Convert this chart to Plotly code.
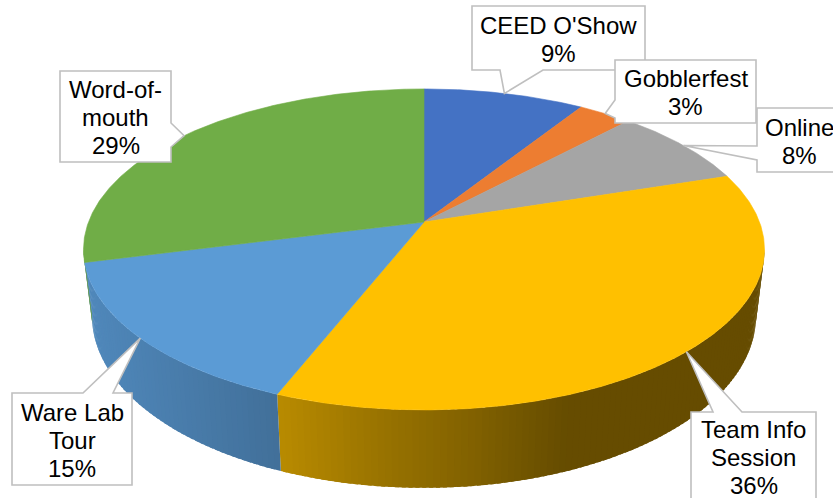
import numpy as np
import plotly.graph_objects as go

# ---- data -------------------------------------------------------------
sources = ["CEED O'Show", "Gobblerfest", "Online", "Team Info Session",
           "Ware Lab Tour", "Word-of-mouth"]
shares = [9, 3, 8, 36, 15, 29]
label_lines = [["CEED O'Show"], ["Gobblerfest"], ["Online"],
               ["Team Info", "Session"], ["Ware Lab", "Tour"],
               ["Word-of-", "mouth"]]
top_colors = ["#4472C4", "#ED7D31", "#A5A5A5", "#FFC000", "#5B9BD5", "#70AD47"]

# ---- 3-D pie geometry (tilted disc seen in perspective) ---------------
W, H = 833, 498
CX, CY = 424.0, 222.0      # centre of the top face
RX, RY = 335.5, 155.8      # horizontal / vertical radius scale
PERSP = 0.171              # perspective strength (front larger than back)
DEPTH = 64.6               # thickness of the disc
TAPER = 0.975              # vertical edges converge slightly downwards


def project(theta_deg, bottom=False):
    """Screen position of a rim point; angle clockwise from the back."""
    t = np.radians(theta_deg)
    u, v = np.sin(t), -np.cos(t)
    s = 1.0 / (1.0 - PERSP * v)
    x = CX + RX * u * s
    y = CY + RY * v * s
    if bottom:
        x = CX + (x - CX) * TAPER
        y = y + DEPTH * s
    return x, y


def shade(hex_color, f):
    h = hex_color.lstrip("#")
    r, g, b = (int(h[i:i + 2], 16) for i in (0, 2, 4))
    return "rgb({},{},{})".format(int(r * f), int(g * f), int(b * f))


def side_factor(x):
    # light comes from the left: the rim darkens towards the right
    return float(np.interp(x, [85, 280, 380, 470, 565, 833],
                           [0.88, 0.72, 0.60, 0.51, 0.40, 0.40]))


total = float(sum(shares))
bounds = np.concatenate([[0.0], np.cumsum(shares) / total * 360.0])

# visible part of the rim (front half between the silhouette extremes)
vis_lo = np.degrees(np.arccos(-PERSP))
vis_hi = 360.0 - vis_lo

fig = go.Figure()

# rim / side walls, drawn as thin overlapping strips for a shading gradient
STEP = 1.0
for i, name in enumerate(sources):
    a0, a1 = max(bounds[i], vis_lo), min(bounds[i + 1], vis_hi)
    if a1 <= a0:
        continue
    n = max(1, int(np.ceil((a1 - a0) / STEP)))
    edges = np.linspace(a0, a1, n + 1)
    for e0, e1 in zip(edges[:-1], edges[1:]):
        th = np.linspace(e0, min(e1 + 0.6 * STEP, a1), 4)
        xt, yt = project(th)
        xb, yb = project(th[::-1], bottom=True)
        xs = np.concatenate([xt, xb, xt[:1]])
        ys = np.concatenate([yt, yb, yt[:1]])
        col = shade(top_colors[i], side_factor(float(np.mean(xt))))
        fig.add_trace(go.Scatter(x=xs, y=ys, mode="lines", fill="toself",
                                 fillcolor=col, line=dict(color=col, width=0),
                                 hoverinfo="skip", showlegend=False))

# top faces of the slices
for i, name in enumerate(sources):
    th = np.linspace(bounds[i], bounds[i + 1],
                     max(3, int((bounds[i + 1] - bounds[i]) * 2)))
    xa, ya = project(th)
    xs = np.concatenate([[CX], xa, [CX]])
    ys = np.concatenate([[CY], ya, [CY]])
    fig.add_trace(go.Scatter(x=xs, y=ys, mode="lines", fill="toself",
                             fillcolor=top_colors[i],
                             line=dict(color=top_colors[i], width=0.6),
                             name=name, hoverinfo="skip", showlegend=False))

# ---- callout labels ---------------------------------------------------
callouts = {
    "CEED O'Show":       dict(box=(472, 6, 645, 70), side="bottom", base=(500, 543)),
    "Gobblerfest":       dict(box=(615, 60, 756, 123), side="left", base=(100, 118)),
    "Online":            dict(box=(757, 108, 841, 172), side="left", base=(146, 160)),
    "Team Info Session": dict(box=(691, 412, 816, 500), side="top", base=(713, 742)),
    "Ware Lab Tour":     dict(box=(12, 393, 132, 485), side="top", base=(83, 113)),
    "Word-of-mouth":     dict(box=(60, 71, 171, 162), side="right", base=(123, 147)),
}


def callout_path(box, side, base, tip):
    x0, y0, x1, y1 = box
    b0, b1 = base
    tx, ty = tip
    if side == "top":
        pts = [(x0, y0), (b0, y0), (tx, ty), (b1, y0), (x1, y0), (x1, y1), (x0, y1)]
    elif side == "bottom":
        pts = [(x0, y0), (x1, y0), (x1, y1), (b1, y1), (tx, ty), (b0, y1), (x0, y1)]
    elif side == "right":
        pts = [(x0, y0), (x1, y0), (x1, b0), (tx, ty), (x1, b1), (x1, y1), (x0, y1)]
    else:
        pts = [(x0, y0), (x1, y0), (x1, y1), (x0, y1), (x0, b1), (tx, ty), (x0, b0)]
    return "M " + " L ".join("{:.1f},{:.1f}".format(px, py) for px, py in pts) + " Z"


FONT = dict(family="Arial, Liberation Sans, sans-serif", size=24, color="#000000")
LINE_GAP = 28

shapes, annotations = [], []
for i, name in enumerate(sources):
    spec = callouts[name]
    mid = (bounds[i] + bounds[i + 1]) / 2.0
    tip = project(mid)
    shapes.append(dict(type="path", xref="x", yref="y",
                       path=callout_path(spec["box"], spec["side"], spec["base"], tip),
                       fillcolor="white", line=dict(color="#BFBFBF", width=1.6),
                       layer="above"))
    lines = label_lines[i] + ["{:d}%".format(int(round(100 * shares[i] / total)))]
    x0, y0, x1, y1 = spec["box"]
    xc, yc = (x0 + x1) / 2.0, (y0 + y1) / 2.0 + 1
    first = yc - LINE_GAP * (len(lines) - 1) / 2.0
    for k, txt in enumerate(lines):
        annotations.append(dict(x=xc, y=first + k * LINE_GAP, xref="x", yref="y",
                                text=txt, showarrow=False, font=FONT,
                                xanchor="center", yanchor="middle"))

fig.update_layout(
    width=W, height=H,
    margin=dict(l=0, r=0, t=0, b=0),
    paper_bgcolor="white", plot_bgcolor="white",
    xaxis=dict(range=[0, W], visible=False, fixedrange=True),
    yaxis=dict(range=[H, 0], visible=False, fixedrange=True),
    shapes=shapes, annotations=annotations,
    showlegend=False,
)

fig.write_html("out.html")
